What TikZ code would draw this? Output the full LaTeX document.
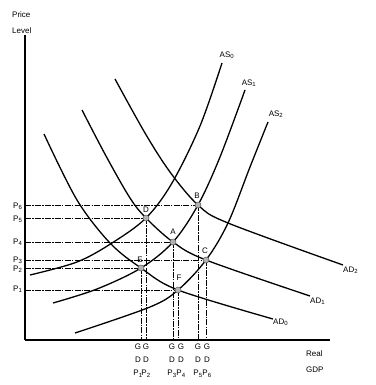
\documentclass[tikz,border=0pt]{standalone}
\usepackage{fontspec}
\setmainfont{Liberation Sans}
\begin{document}
\begin{tikzpicture}[x=1pt,y=-1pt,
  curve/.style={line width=1.3pt, smooth, tension=0.55},
  guide/.style={line width=0.9pt, dash pattern=on 6pt off 1.2pt on 1.5pt off 1.2pt},
  lbl/.style={font=\fontsize{8}{13}\selectfont, inner sep=0pt},
  ptmark/.style={circle, minimum size=6pt, inner sep=0pt, fill=gray!60, draw=gray!70!black, line width=0.5pt},
  gdp/.style={lbl, align=center, anchor=north}]
\useasboundingbox (0,0) rectangle (375,385);
% axes
\coordinate (ytop) at (25,35);
\coordinate (O) at (25,340);
\coordinate (xend) at (330,340);
% equilibrium points
\coordinate (A) at (173,242);
\coordinate (B) at (198,205);
\coordinate (C) at (206,260);
\coordinate (D) at (146,218);
\coordinate (E) at (141,268);
\coordinate (F) at (178,290);
% guide lines
\foreach \p in {A,B,C,D,E,F}{
  \draw[guide] (\p -| O) -- (\p);
  \draw[guide] (\p) -- (\p |- O);
}
% axes
\draw[line width=1.3pt] (ytop) -- (O);
\draw[line width=2.3pt] (O) -- (xend);
% AS curves
\draw[curve] plot coordinates {(30,275) (77,262) (112,243) (D) (172,183) (200,126) (222,63)};
\draw[curve] plot coordinates {(53,303) (97,289) (E) (A) (B) (220,157) (245,90)};
\draw[curve] plot coordinates {(75,333) (150,307) (F) (C) (228,223) (250,167) (268,122)};
% AD curves
\draw[curve] plot coordinates {(44,134) (77,200) (110,243) (E) (F) (273,319)};
\draw[curve] plot coordinates {(82,110) (106,156) (130,198) (D) (A) (C) (310,296)};
\draw[curve] plot coordinates {(115,79) (145,133) (170,172) (B) (228,223) (343,265)};
% markers
\foreach \p in {A,B,C,D,E,F}{ \node[ptmark] (m\p) at (\p) {}; }
% point labels
\node[lbl] (lA) at (173,232) {A};
\node[lbl] (lB) at (197,196) {B};
\node[lbl] (lC) at (205,251) {C};
\node[lbl] (lD) at (146,210) {D};
\node[lbl] (lE) at (140,260) {E};
\node[lbl] (lF) at (179,278) {F};
% curve labels
\node[lbl] (as0) at (227,55) {AS\textsubscript{0}};
\node[lbl] (as1) at (249,83) {AS\textsubscript{1}};
\node[lbl] (as2) at (276,114) {AS\textsubscript{2}};
\node[lbl, anchor=west] (ad2) at (343,270) {AD\textsubscript{2}};
\node[lbl, anchor=west] (ad1) at (310,301) {AD\textsubscript{1}};
\node[lbl, anchor=west] (ad0) at (273,322) {AD\textsubscript{0}};
% axis titles
\node[lbl, anchor=west] (t1) at (12,15) {Price};
\node[lbl, anchor=west] (t2) at (12,31) {Level};
\node[lbl, anchor=west] (t3) at (306,354) {Real};
\node[lbl, anchor=west] (t4) at (306,370) {GDP};
% price labels
\node[lbl, anchor=west] (p6) at (13,206) {P\textsubscript{6}};
\node[lbl, anchor=west] (p5) at (13,219) {P\textsubscript{5}};
\node[lbl, anchor=west] (p4) at (13,242) {P\textsubscript{4}};
\node[lbl, anchor=west] (p3) at (13,260) {P\textsubscript{3}};
\node[lbl, anchor=west] (p2) at (13,269) {P\textsubscript{2}};
\node[lbl, anchor=west] (p1) at (13,289) {P\textsubscript{1}};
% GDP labels
\node[gdp] (g1) at (138,344) {G\\D\\P\textsubscript{1}};
\node[gdp] (g2) at (146,344) {G\\D\\P\textsubscript{2}};
\node[gdp] (g3) at (172,344) {G\\D\\P\textsubscript{3}};
\node[gdp] (g4) at (181,344) {G\\D\\P\textsubscript{4}};
\node[gdp] (g5) at (198,344) {G\\D\\P\textsubscript{5}};
\node[gdp] (g6) at (207,344) {G\\D\\P\textsubscript{6}};
\end{tikzpicture}
\end{document}
